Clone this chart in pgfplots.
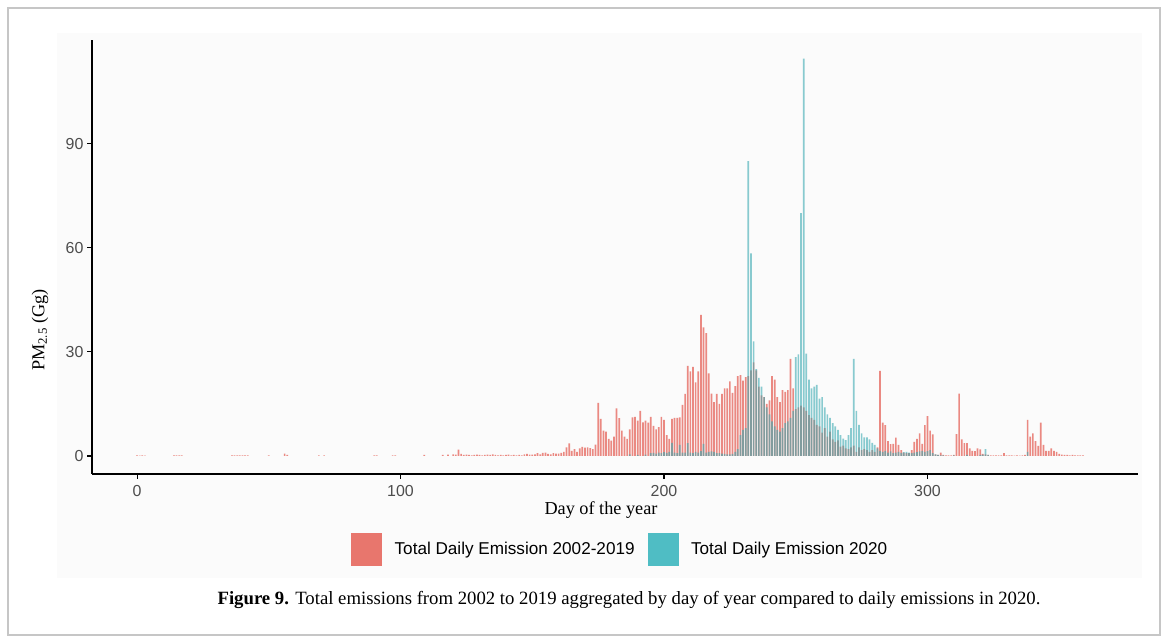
\documentclass[border=0pt]{standalone}
\usepackage{fontspec}
\setmainfont{Liberation Serif}
\setsansfont{Liberation Sans}
\usepackage{pgfplots}
\pgfplotsset{compat=1.18}

\definecolor{cred}{HTML}{E8766D}
\definecolor{cteal}{HTML}{4FBDC4}
\definecolor{cteald}{HTML}{3CAAB2}
\definecolor{tickgray}{HTML}{4D4D4D}

\begin{document}
\begin{tikzpicture}[x=1bp,y=1bp]
\path[use as bounding box] (0,0) rectangle (1167,639);
\fill[gray!3] (57,61) rectangle (1142,606);
\draw[gray!45, line width=1.5bp] (8,4) rectangle (1160,631);

\begin{axis}[
  at={(92bp,165bp)}, anchor=south west,
  scale only axis, width=1046bp, height=434bp,
  xmin=-17.1, xmax=379.9, ymin=-5.19, ymax=119.9,
  axis x line*=bottom, axis y line*=left,
  axis line style={-, line width=1.3bp, black},
  xtick={0,100,200,300}, ytick={0,30,60,90},
  tick align=outside, major tick length=5bp,
  tick style={line width=1.1bp, black},
  /pgf/number format/assume math mode=true,
  ticklabel style={font=\fontsize{16}{19}\sffamily, text=tickgray},
  xticklabel style={yshift=-3bp},
  xlabel={Day of the year}, ylabel={PM\textsubscript{2.5} (Gg)},
  every axis x label/.style={at={(axis description cs:0.4866,-0.084)}, anchor=center,
    font=\fontsize{18.3}{21}\selectfont},
  every axis y label/.style={at={(axis description cs:-0.0497,0.332)}, anchor=center, rotate=90,
    font=\fontsize{18.3}{21}\selectfont},
  legend style={at={(0.505,-0.173)}, anchor=center, draw=none, fill=none,
    font=\fontsize{17.2}{20}\sffamily, column sep=11bp, inner sep=0pt},
  legend columns=2,
]
% 2002-2019
\addplot[ybar, bar width=1.7bp, bar shift=0pt, fill=cred, fill opacity=0.85, draw=none, forget plot] coordinates {
(0,0.15) (1,0.1) (2,0.15) (3,0.1) (14,0.2) (15,0.15) (16,0.2) (17,0.15)
(36,0.2) (37,0.15) (38,0.2) (39,0.15) (40,0.2) (41,0.15) (42,0.2) (50,0.2) (56,0.7) (57,0.3)
(69,0.15) (71,0.15) (90,0.2) (91,0.15) (97,0.2) (98,0.15) (109,0.3) (116,0.3) (118,0.4)
(120,0.5) (121,0.4) (122,1.8) (123,0.6) (124,0.3) (125,0.4) (126,0.3) (127,0.2) (128,0.3) (129,0.4)
(130,0.3) (131,0.2) (132,0.3) (133,0.4) (134,0.3) (135,0.5) (136,0.3) (137,0.2) (138,0.3) (139,0.2)
(140,0.3) (141,0.4) (142,0.2) (143,0.3) (144,0.2) (145,0.3) (146,0.2) (147,0.5) (148,0.6) (149,0.4)
(150,0.4) (151,0.5) (152,0.8) (153,0.5) (154,0.9) (155,1) (156,0.6) (157,0.5) (158,0.8) (159,0.7)
(160,0.7) (161,0.9) (162,1.2) (163,2.5) (164,3.6) (165,1.5) (166,2) (167,1.2) (168,2.2) (169,2.6)
(170,2.4) (171,2.5) (172,2.3) (173,2) (174,3.3) (175,15.3) (176,10.7) (177,7.3) (178,7) (179,4.9)
(180,4.4) (181,5.6) (182,13.7) (183,10.9) (184,7.3) (185,5.6) (186,4.9) (187,7.7) (188,11.1) (189,11.3)
(190,10.2) (191,13) (192,9.7) (193,10.2) (194,9.6) (195,11.3) (196,8.7) (197,7.7) (198,8.3) (199,11.3)
(200,10.4) (201,6) (202,4.9) (203,10.7) (204,11) (205,11) (206,11.1) (207,14.7) (208,17.9) (209,26)
(210,24.4) (211,25.7) (212,21.2) (213,24.4) (214,40.7) (215,37.1) (216,35.4) (217,23.8) (218,18) (219,15.5)
(220,17.9) (221,15) (222,17.9) (223,19.5) (224,19.5) (225,21.5) (226,18.2) (227,20.1) (228,23) (229,23.3)
(230,21.7) (231,22.7) (232,23) (233,24.7) (234,27) (235,24.7) (236,20) (237,17.5) (238,17) (239,15)
(240,16) (241,23) (242,22) (243,17) (244,15.5) (245,19) (246,18.5) (247,19) (248,28) (249,19.5)
(250,13.5) (251,14) (252,14.5) (253,14) (254,13) (255,11.8) (256,11) (257,10.4) (258,9) (259,8.5)
(260,6.7) (261,8) (262,5.6) (263,7) (264,4.8) (265,4.1) (266,4.5) (267,2.7) (268,3) (269,2.2)
(270,2) (271,2.5) (272,3) (273,1.2) (274,2.5) (275,1.7) (276,2) (277,1.7) (278,1.2) (279,1.7)
(280,1.2) (281,2.5) (282,24.5) (283,9.6) (284,8.9) (285,4.3) (286,3.4) (287,3.5) (288,5.3) (289,3.2)
(290,1.7) (291,1) (292,0.8) (293,0.8) (294,1.7) (295,4.1) (296,4.9) (297,6.5) (298,3.5) (299,8.9)
(300,11.5) (301,7.3) (302,6.2) (303,0.5) (304,0.3) (305,1) (306,0.3) (307,0.2) (308,0.2) (309,0.2)
(310,0.3) (311,6.3) (312,18) (313,4.8) (314,3.7) (315,3.7) (316,2.2) (317,1.5) (318,1.4) (319,2.2)
(320,1.9) (321,0.6) (322,0.5) (323,0.3) (324,0.2) (325,0.2) (326,0.2) (327,0.2) (328,0.2) (329,0.8)
(330,0.2) (331,0.2) (332,0.2) (333,0.1) (334,0.2) (335,0.1) (336,0.2) (337,0.3) (338,10.4) (339,5.6)
(340,6.5) (341,4.3) (342,2.9) (343,9.6) (344,3.2) (345,1.5) (346,1.5) (347,2.2) (348,1.5) (349,1.2)
(350,0.6) (351,0.4) (352,0.3) (353,0.3) (354,0.2) (355,0.3) (356,0.2) (357,0.2) (358,0.2) (359,0.2)
};
% 2020
\addplot[ybar, bar width=1.7bp, bar shift=0pt, fill=cteald, fill opacity=0.6, draw=none, forget plot] coordinates {
(187,0.5) (190,0.3) (193,0.4) (195,0.8) (196,0.9) (197,0.7) (198,1) (199,0.8)
(200,1.1) (201,0.9) (202,1.2) (203,3.8) (204,1) (205,0.8) (206,3.2) (207,1) (208,1) (209,3.7)
(210,1) (211,0.8) (212,1.2) (213,1) (214,1.4) (215,3.5) (216,1) (217,1.2) (218,1.3) (219,1.2)
(220,0.8) (221,0.8) (222,0.7) (223,0.6) (224,0.5) (225,0.5) (226,0.6) (227,1.2) (228,2) (229,6)
(230,7.5) (231,8) (232,85) (233,58.4) (234,33) (235,25) (236,22.5) (237,20) (238,17) (239,14)
(240,12) (241,10) (242,8.5) (243,7.5) (244,7) (245,8) (246,9.5) (247,10) (248,11) (249,13)
(250,28.5) (251,29.3) (252,70) (253,114.5) (254,29.5) (255,22) (256,19.5) (257,20) (258,20.5) (259,16.5)
(260,17) (261,14) (262,12) (263,11) (264,9.5) (265,8.5) (266,7.5) (267,6) (268,5) (269,4.6)
(270,6) (271,8) (272,28) (273,13) (274,9) (275,6.5) (276,5.4) (277,5.4) (278,4.8) (279,3.8)
(280,3.2) (281,2.2) (282,1.5) (283,1.2) (284,1.5) (285,1) (286,1.3) (287,0.8) (288,1) (289,1.2)
(290,0.9) (291,1.1) (292,1.2) (293,1) (294,0.8) (295,1) (296,1.1) (297,1.3) (298,1.5) (299,1.2)
(300,1.4) (301,1.7) (302,0.8) (303,0.5) (304,0.3) (305,0.2) (306,0.2) (310,0.2) (315,0.3) (320,0.3)
(321,0.4) (322,2) (323,0.3) (338,1.2)
};
\addlegendimage{legend image code/.code={\fill[cred] (0bp,-16bp) rectangle (30bp,16bp);}}
\addlegendentry{Total Daily Emission 2002-2019}
\addlegendimage{legend image code/.code={\fill[cteal] (0bp,-16bp) rectangle (30bp,16bp);}}
\addlegendentry{Total Daily Emission 2020}
\end{axis}

\node[font=\fontsize{18.8}{22}\selectfont] at (629,39)
  {\textbf{Figure 9.} Total emissions from 2002 to 2019 aggregated by day of year compared to daily emissions in 2020.};
\end{tikzpicture}
\end{document}
